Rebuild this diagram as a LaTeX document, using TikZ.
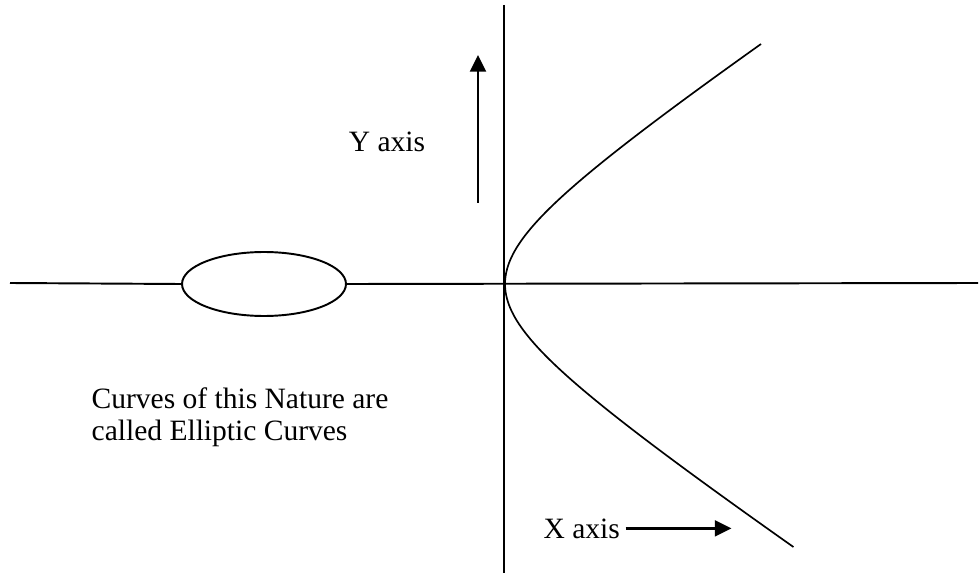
\documentclass[tikz,border=0pt]{standalone}
\usepackage{fontspec}
\setmainfont{Liberation Serif}
\usetikzlibrary{positioning,shapes.geometric,arrows.meta}
\tikzset{every picture/.style={line width=0.75pt}}

\begin{document}
\begin{tikzpicture}[>={Triangle[length=9.5pt,width=9pt]}, every node/.style={font=\fontsize{16.8}{18}\selectfont, inner sep=0pt}, x=0.02cm, y=-0.02cm]
        \useasboundingbox (0,0) rectangle (979,577);
        % axes, the oval sits on the horizontal one
        \coordinate (xl) at (10,283);
        \coordinate (xr) at (978,283);
        \coordinate (yt) at (504,5);
        \coordinate (yb) at (504,573);
        \node[ellipse, draw, line width=1.1pt, minimum width=3.28cm, minimum height=1.28cm] (oval) at (264,284) {};
        \draw[line width=1.1pt] (xl) -- (oval.west) (oval.east) -- (xr);
        \draw[line width=1.1pt] (yt) -- (yb);
        % open branch through the origin
        \draw[line width=0.95pt] plot[smooth, domain=-240:263, samples=80] ({505+148*(sqrt(0.64+(\x/100)^2)-0.8)}, {284+\x});
        % labels and their arrows
        \node[anchor=base] (ylab) at (387,152) {Y axis};
        \coordinate (ybot) at (478,203);
        \coordinate (ytop) at (478,55);
        \draw[->, line width=1.5pt] (ybot) -- (ytop);
        \node[anchor=base west] (xlab) at (543,538) {X axis};
        \draw[->, line width=1.3pt] ([xshift=0.1cm]xlab.east) -- ([xshift=2.22cm]xlab.east);
        \node[anchor=base west, align=left] (note) at (91,440) {Curves of this Nature are\\called Elliptic Curves};
    \end{tikzpicture}
\end{document}
